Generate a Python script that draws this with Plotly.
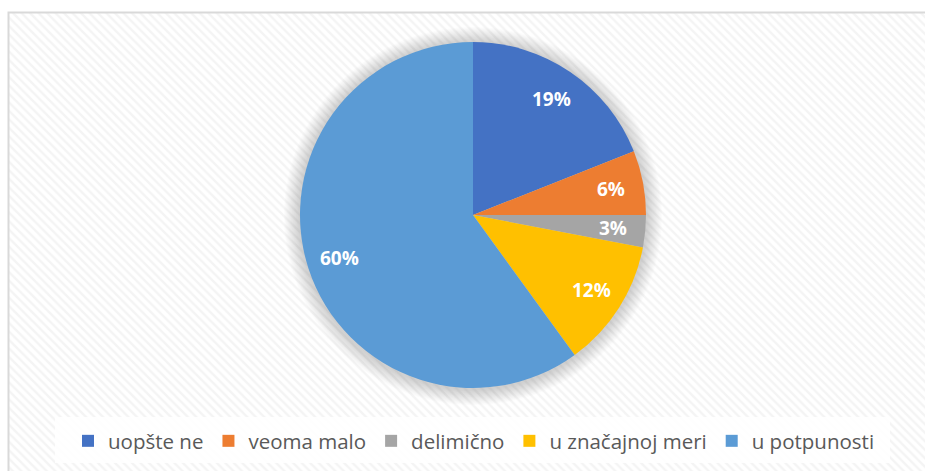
import numpy as np
import plotly.graph_objects as go

categories = ["uopšte ne", "veoma malo", "delimično", "u značajnoj meri", "u potpunosti"]
values = [19, 6, 3, 12, 60]
colors = ["#4472C4", "#ED7D31", "#A5A5A5", "#FFC000", "#5B9BD5"]

W, H = 925, 471
cx, cy, R = 473, 215, 173

fig = go.Figure()

# hatched chart-area background
x0, y0 = 8, 12
fig.add_trace(go.Bar(
    x=[(x0 + W) / 2], y=[H - y0], base=[y0], width=[W - x0],
    marker=dict(color="white", line=dict(width=0),
                pattern=dict(shape="\\", fgcolor="#e9e9e9", bgcolor="white", size=6, solidity=0.4)),
    showlegend=False, hoverinfo="skip",
))

# soft shadow around the pie
t = np.linspace(0, 2 * np.pi, 240)
for k in range(16, 0, -1):
    r = R + k
    fig.add_trace(go.Scatter(
        x=cx + r * np.cos(t), y=cy + 1 + r * np.sin(t), mode="lines",
        fill="toself", fillcolor="rgba(110,110,110,0.024)", line=dict(width=0),
        showlegend=False, hoverinfo="skip",
    ))

fig.add_trace(go.Pie(
    labels=categories, values=values, sort=False, direction="clockwise", rotation=0,
    marker=dict(colors=colors, line=dict(width=0)),
    textinfo="none",
    domain=dict(x=[(cx - R) / W, (cx + R) / W], y=[1 - (cy + R) / H, 1 - (cy - R) / H]),
    hoverinfo="label+percent",
))

# data labels placed at ~0.81 R along each slice's mid-angle
total = sum(values)
cum = np.cumsum([0] + values[:-1])
annotations = []
for v, c in zip(values, cum):
    ang = 2 * np.pi * (c + v / 2) / total
    lx = cx + 0.81 * R * np.sin(ang)
    ly = cy - 0.81 * R * np.cos(ang)
    annotations.append(dict(
        x=lx, y=ly, xref="x", yref="y", showarrow=False,
        text="<b>%d%%</b>" % round(100 * v / total),
        font=dict(color="white", size=19, family="Open Sans"),
        xanchor="center", yanchor="middle",
    ))

fig.update_layout(
    width=W, height=H, margin=dict(l=0, r=0, t=0, b=0),
    paper_bgcolor="white", plot_bgcolor="white",
    xaxis=dict(range=[0, W], domain=[0, 1], visible=False, fixedrange=True),
    yaxis=dict(range=[H, 0], domain=[0, 1], visible=False, fixedrange=True),
    bargap=0,
    showlegend=True,
    legend=dict(orientation="h", x=474 / W, xanchor="center", y=1 - 441 / H,
                yanchor="middle",
                font=dict(size=20.5, color="#595959", family="Open Sans"),
                bgcolor="rgba(0,0,0,0)", itemclick=False, itemdoubleclick=False),
    annotations=annotations,
    shapes=[
        dict(type="rect", xref="paper", yref="paper", x0=55 / W, x1=890 / W,
             y0=1 - 463 / H, y1=1 - 417 / H, fillcolor="white",
             line=dict(width=0), layer="above", opacity=0.85),
        dict(type="rect", xref="paper", yref="paper", x0=8.5 / W, x1=1.1, y0=-0.1,
             y1=1 - 12.5 / H, fillcolor="rgba(0,0,0,0)",
             line=dict(color="#d9d9d9", width=2), layer="above"),
    ],
)

fig.write_html(
    "out.html",
    config={"displayModeBar": False},
    post_script="document.body.style.margin='0';document.body.style.overflow='hidden';",
)
